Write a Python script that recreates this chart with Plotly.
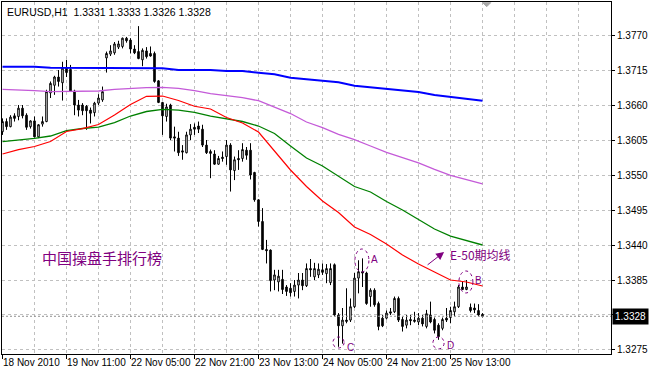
import plotly.graph_objects as go

# ---------------- data ----------------
time_labels = ["18 Nov 2010", "19 Nov 11:00", "22 Nov 05:00", "22 Nov 21:00",
               "23 Nov 13:00", "24 Nov 05:00", "24 Nov 21:00", "25 Nov 13:00"]
label_bars = [0, 16, 32, 48, 64, 80, 96, 112]

opens = [1.3618, 1.3634, 1.3626, 1.3643, 1.3642, 1.3655, 1.3644, 1.3626, 1.3635, 1.3610,
         1.3630, 1.3634, 1.3679, 1.3691, 1.3704, 1.3695, 1.3718, 1.3716, 1.3682, 1.3660,
         1.3660, 1.3658, 1.3652, 1.3648, 1.3663, 1.3668, 1.3734, 1.3740, 1.3742, 1.3751,
         1.3752, 1.3765, 1.3762, 1.3748, 1.3744, 1.3731, 1.3745, 1.3741, 1.3741, 1.3698,
         1.3664, 1.3642, 1.3660, 1.3610, 1.3608, 1.3588, 1.3585, 1.3613, 1.3625, 1.3627,
         1.3622, 1.3597, 1.3587, 1.3583, 1.3567, 1.3578, 1.3579, 1.3597, 1.3557, 1.3576,
         1.3576, 1.3589, 1.3589, 1.3554, 1.3511, 1.3477, 1.3433, 1.3432, 1.3385, 1.3382,
         1.3386, 1.3374, 1.3372, 1.3367, 1.3377, 1.3385, 1.3376, 1.3403, 1.3390, 1.3393,
         1.3401, 1.3395, 1.3381, 1.3409, 1.3330, 1.3313, 1.3322, 1.3322, 1.3343, 1.3388,
         1.3398, 1.3396, 1.3359, 1.3369, 1.3348, 1.3325, 1.3325, 1.3335, 1.3335, 1.3356,
         1.3323, 1.3314, 1.3323, 1.3322, 1.3319, 1.3325, 1.3312, 1.3330, 1.3323, 1.3314,
         1.3309, 1.3325, 1.3326, 1.3335, 1.3343, 1.3374, 1.3370, 1.3342, 1.3341, 1.3337,
         1.3331]
highs = [1.3639, 1.3639, 1.3644, 1.3647, 1.3660, 1.3660, 1.3647, 1.3636, 1.3642, 1.3630,
         1.3642, 1.3684, 1.3697, 1.3706, 1.3715, 1.3728, 1.3731, 1.3723, 1.3684, 1.3668,
         1.3663, 1.3660, 1.3656, 1.3665, 1.3677, 1.3689, 1.3744, 1.3754, 1.3759, 1.3761,
         1.3766, 1.3767, 1.3765, 1.3754, 1.3784, 1.3749, 1.3751, 1.3752, 1.3744, 1.3699,
         1.3665, 1.3662, 1.3662, 1.3626, 1.3618, 1.3597, 1.3618, 1.3630, 1.3631, 1.3634,
         1.3629, 1.3605, 1.3590, 1.3589, 1.3580, 1.3587, 1.3605, 1.3600, 1.3579, 1.3589,
         1.3600, 1.3594, 1.3600, 1.3555, 1.3512, 1.3498, 1.3448, 1.3433, 1.3401, 1.3401,
         1.3401, 1.3377, 1.3380, 1.3385, 1.3396, 1.3396, 1.3411, 1.3418, 1.3412, 1.3411,
         1.3411, 1.3410, 1.3411, 1.3411, 1.3333, 1.3341, 1.3372, 1.3356, 1.3396, 1.3416,
         1.3419, 1.3398, 1.3372, 1.3372, 1.3351, 1.3330, 1.3337, 1.3341, 1.3359, 1.3359,
         1.3327, 1.3330, 1.3330, 1.3335, 1.3333, 1.3330, 1.3338, 1.3351, 1.3326, 1.3317,
         1.3326, 1.3341, 1.3343, 1.3351, 1.3377, 1.3382, 1.3385, 1.3348, 1.3348, 1.3347,
         1.3333]
lows = [1.3613, 1.3621, 1.3625, 1.3634, 1.3636, 1.3639, 1.3621, 1.3623, 1.3609, 1.3608,
        1.3626, 1.3633, 1.3671, 1.3676, 1.3689, 1.3667, 1.3704, 1.3681, 1.3644, 1.3642,
        1.3644, 1.3621, 1.3631, 1.3642, 1.3660, 1.3665, 1.3711, 1.3737, 1.3739, 1.3748,
        1.3749, 1.3758, 1.3741, 1.3740, 1.3732, 1.3721, 1.3733, 1.3736, 1.3695, 1.3663,
        1.3613, 1.3634, 1.3605, 1.3587, 1.3580, 1.3574, 1.3584, 1.3605, 1.3613, 1.3616,
        1.3594, 1.3583, 1.3545, 1.3566, 1.3566, 1.3571, 1.3566, 1.3524, 1.3542, 1.3558,
        1.3571, 1.3574, 1.3543, 1.3508, 1.3469, 1.3432, 1.3411, 1.3367, 1.3369, 1.3367,
        1.3363, 1.3360, 1.3359, 1.3359, 1.3356, 1.3369, 1.3374, 1.3390, 1.3385, 1.3388,
        1.3393, 1.3380, 1.3377, 1.3328, 1.3280, 1.3285, 1.3317, 1.3319, 1.3341, 1.3364,
        1.3374, 1.3346, 1.3343, 1.3343, 1.3306, 1.3311, 1.3323, 1.3330, 1.3333, 1.3319,
        1.3304, 1.3309, 1.3314, 1.3318, 1.3314, 1.3312, 1.3309, 1.3317, 1.3301, 1.3291,
        1.3306, 1.3319, 1.3317, 1.3328, 1.3341, 1.3369, 1.3369, 1.3334, 1.3333, 1.3328,
        1.3326]
closes = [1.3634, 1.3626, 1.3641, 1.3639, 1.3655, 1.3643, 1.3625, 1.3635, 1.3610, 1.3629,
          1.3634, 1.3681, 1.3694, 1.3704, 1.3697, 1.3718, 1.3711, 1.3682, 1.3660, 1.3652,
          1.3651, 1.3651, 1.3647, 1.3663, 1.3671, 1.3681, 1.3741, 1.3745, 1.3756, 1.3756,
          1.3765, 1.3761, 1.3748, 1.3742, 1.3733, 1.3746, 1.3736, 1.3737, 1.3697, 1.3664,
          1.3643, 1.3657, 1.3608, 1.3608, 1.3585, 1.3586, 1.3613, 1.3622, 1.3622, 1.3622,
          1.3597, 1.3585, 1.3584, 1.3567, 1.3576, 1.3576, 1.3597, 1.3558, 1.3574, 1.3574,
          1.3590, 1.3581, 1.3550, 1.3511, 1.3477, 1.3433, 1.3431, 1.3384, 1.3393, 1.3391,
          1.3370, 1.3367, 1.3365, 1.3377, 1.3385, 1.3376, 1.3403, 1.3401, 1.3403, 1.3402,
          1.3397, 1.3403, 1.3403, 1.3330, 1.3313, 1.3322, 1.3320, 1.3343, 1.3388, 1.3398,
          1.3396, 1.3348, 1.3369, 1.3346, 1.3312, 1.3313, 1.3333, 1.3333, 1.3356, 1.3322,
          1.3312, 1.3322, 1.3321, 1.3320, 1.3325, 1.3316, 1.3332, 1.3319, 1.3306, 1.3296,
          1.3323, 1.3322, 1.3337, 1.3343, 1.3374, 1.3370, 1.3374, 1.3337, 1.3338, 1.3330,
          1.3328]

# moving averages, read every 4th bar
ma_blue = [1.37202, 1.37202, 1.37202, 1.37186, 1.37186, 1.37186, 1.37186, 1.37177, 1.37177, 1.37177,
           1.37177, 1.37150, 1.37150, 1.37150, 1.37134, 1.37134, 1.37108, 1.37083, 1.37029, 1.37004,
           1.36982, 1.36957, 1.36903, 1.36878, 1.36856, 1.36831, 1.36804, 1.36757, 1.36730, 1.36694,
           1.36668]
ma_violet = [1.36847, 1.36840, 1.36825, 1.36809, 1.36809, 1.36809, 1.36820, 1.36847, 1.36862, 1.36872,
             1.36878, 1.36862, 1.36825, 1.36778, 1.36746, 1.36715, 1.36668, 1.36569, 1.36466, 1.36333,
             1.36246, 1.36140, 1.36055, 1.35956, 1.35857, 1.35775, 1.35689, 1.35587, 1.35495, 1.35426,
             1.35359]
ma_red = [1.35830, 1.35898, 1.35948, 1.36026, 1.36184, 1.36228, 1.36294, 1.36443, 1.36608, 1.36737,
          1.36741, 1.36671, 1.36580, 1.36537, 1.36404, 1.36317, 1.36176, 1.35885, 1.35579, 1.35319,
          1.35092, 1.34911, 1.34683, 1.34565, 1.34416, 1.34243, 1.34102, 1.33976, 1.33850, 1.33819,
          1.33756]
ma_green = [1.36026, 1.36050, 1.36077, 1.36113, 1.36199, 1.36231, 1.36254, 1.36325, 1.36427, 1.36498,
            1.36532, 1.36521, 1.36485, 1.36427, 1.36380, 1.36341, 1.36270, 1.36152, 1.35956, 1.35767,
            1.35641, 1.35484, 1.35319, 1.35233, 1.35084, 1.34950, 1.34801, 1.34651, 1.34541, 1.34471,
            1.34400]

price_levels = [1.3275, 1.3330, 1.3385, 1.3440, 1.3495, 1.3550, 1.3605, 1.3660, 1.3715, 1.3770]
price_text = ["1.3275", "", "1.3385", "1.3440", "1.3495", "1.3550", "1.3605", "1.3660", "1.3715", "1.3770"]
last_price = 1.3328
title_text = "EURUSD,H1  1.3331 1.3333 1.3326 1.3328"

# ---------------- figure ----------------
bars = list(range(len(opens)))
ma_bars = list(range(0, len(opens), 4))
PURPLE = "#800080"

fig = go.Figure()
fig.add_trace(go.Candlestick(
    x=bars, open=opens, high=highs, low=lows, close=closes,
    increasing=dict(line=dict(color="black", width=1), fillcolor="white"),
    decreasing=dict(line=dict(color="black", width=1), fillcolor="black"),
    whiskerwidth=0, hoverinfo="skip", showlegend=False))

for vals, col, w in [(ma_blue, "#0000FF", 2), (ma_violet, "#C45AD8", 1.3),
                     (ma_green, "#008000", 1.3), (ma_red, "#FF0000", 1.2)]:
    fig.add_trace(go.Scatter(x=ma_bars, y=vals, mode="lines",
                             line=dict(color=col, width=w), hoverinfo="skip", showlegend=False))

shapes = [
    dict(type="line", xref="paper", x0=0, x1=1, yref="y", y0=last_price, y1=last_price,
         line=dict(color="#909090", width=1, dash="2px,2px")),
    # A, C, D, B ellipses
    dict(type="circle", xref="x", yref="y", x0=88.1, x1=91.6, y0=1.33976, y1=1.34337,
         line=dict(color=PURPLE, width=1, dash="dot")),
    dict(type="circle", xref="x", yref="y", x0=82.6, x1=85.4, y0=1.32782, y1=1.32954,
         line=dict(color=PURPLE, width=1, dash="dot")),
    dict(type="circle", xref="x", yref="y", x0=107.6, x1=110.4, y0=1.32766, y1=1.32954,
         line=dict(color=PURPLE, width=1, dash="dot")),
    dict(type="circle", xref="x", yref="y", x0=114.1, x1=117.6, y0=1.33646, y1=1.33992,
         line=dict(color=PURPLE, width=1, dash="dot")),
    # chart-shift marker
    dict(type="path", xref="x", yref="y",
         path="M 120.05,1.38208 L 122.05,1.38208 L 121.05,1.38145 Z",
         fillcolor="#A8A8A8", line=dict(color="#A8A8A8", width=1)),
]

annotations = []
for b, t in zip(label_bars, time_labels):
    annotations.append(dict(xref="x", yref="paper", x=b, y=0, xanchor="left", yanchor="top",
                            xshift=-2, yshift=-1, text=t, showarrow=False,
                            font=dict(family="Liberation Sans", size=10, color="black")))
annotations += [
    dict(xref="paper", yref="paper", x=0, y=1, xanchor="left", yanchor="top", xshift=3, yshift=-2,
         text=title_text, showarrow=False,
         font=dict(family="Liberation Sans", size=10.5, color="black")),
    dict(xref="paper", yref="y", x=1, y=last_price, xanchor="left", yanchor="middle", xshift=1,
         text="1.3328", showarrow=False, bgcolor="black", borderpad=2,
         font=dict(family="Liberation Sans", size=10, color="white")),
    dict(xref="x", yref="y", x=9.3, y=1.34196, xanchor="left", yanchor="middle",
         text="中国操盘手排行榜", showarrow=False,
         font=dict(family="Noto Sans CJK SC", size=15, color=PURPLE)),
    dict(xref="x", yref="y", x=111.4, y=1.34243, xanchor="left", yanchor="middle",
         text="E-50期均线", showarrow=False,
         font=dict(family="Noto Sans CJK SC", size=12, color=PURPLE)),
    dict(xref="x", yref="y", x=110.4, y=1.34290, axref="x", ayref="y", ax=105.9, ay=1.3407,
         text="", showarrow=True, arrowhead=2, arrowsize=1.6, arrowwidth=1, arrowcolor=PURPLE),
]
for lbl, bx, py in [("A", 93.1, 1.34180), ("C", 86.9, 1.32782), ("D", 112.1, 1.32813), ("B", 118.9, 1.33850)]:
    annotations.append(dict(xref="x", yref="y", x=bx, y=py, xanchor="center", yanchor="middle",
                            text=lbl, showarrow=False,
                            font=dict(family="Liberation Sans", size=10, color=PURPLE)))

grid = dict(showgrid=True, gridcolor="#C0C0C0", gridwidth=1, griddash="3px,3px")
fig.update_layout(
    width=650, height=371, margin=dict(l=2, r=39, t=2, b=17),
    paper_bgcolor="white", plot_bgcolor="white", boxgap=0.45, showlegend=False,
    shapes=shapes, annotations=annotations,
    xaxis=dict(range=[-0.125, 152.125], rangeslider=dict(visible=False),
               tickmode="array", tickvals=label_bars, showticklabels=False,
               ticks="outside", ticklen=4, tickcolor="black",
               minor=dict(tickmode="array", tickvals=[8, 24, 40, 56, 72, 88, 104, 120, 128, 136, 144],
                          ticks="", **grid),
               showline=True, linecolor="black", linewidth=1, mirror=True, zeroline=False,
               **grid),
    yaxis=dict(side="right", range=[1.32687, 1.38219], tickmode="array",
               tickvals=price_levels, ticktext=price_text,
               ticks="outside", ticklen=3, tickcolor="black",
               tickfont=dict(family="Liberation Sans", size=10, color="black"),
               showline=True, linecolor="black", linewidth=1, mirror=True, zeroline=False,
               **grid),
)

fig.write_html("out.html")
